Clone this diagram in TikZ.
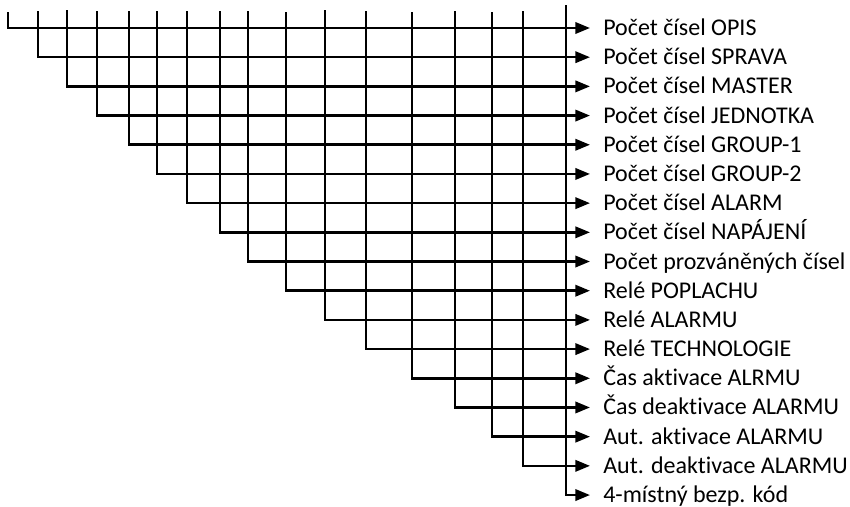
\documentclass[tikz,border=0pt]{standalone}
\usepackage{fontspec}
\setmainfont{Carlito}[Ligatures=NoCommon]
\usetikzlibrary{arrows.meta}
\begin{document}
\begin{tikzpicture}[x=0.75pt,y=-0.75pt,
    wire/.style={line width=1.9pt,line join=miter,-{Triangle[length=11pt,width=8.5pt]}},
    lab/.style={anchor=base west,inner sep=0pt,font=\fontsize{18}{21}\selectfont}]
\useasboundingbox (0,0) rectangle (850,507);
\foreach \i/\x/\t/\lab in {1/8/12/{Počet čísel OPIS},2/38/11/{Počet čísel SPRAVA},
    3/67/10/{Počet čísel MASTER},4/97/11/{Počet čísel JEDNOTKA},
    5/129/11/{Počet čísel GROUP-1},6/157/11/{Počet čísel GROUP-2},
    7/187/11/{Počet čísel ALARM},8/220/11/{Počet čísel NAPÁJENÍ},
    9/248/11/{Počet prozváněných čísel},10/286/12/{Relé POPLACHU},
    11/325/10/{Relé ALARMU},12/366/11/{Relé TECHNOLOGIE},
    13/412/12/{Čas aktivace ALRMU},14/455/11/{Čas deaktivace ALARMU},
    15/492/12/{Aut. aktivace ALARMU},16/523/11/{Aut. deaktivace ALARMU},
    17/566/5/{4-místný bezp. kód}}{
    \pgfmathsetmacro\y{28+29.19*(\i-1)}
    \coordinate (t\i) at (\x,\t);
    \coordinate (e\i) at (590,\y);
    \node[lab] (l\i) at (603,\y+7.5) {\lab};
    \draw[wire] (t\i) |- (e\i);
}
\end{tikzpicture}
\end{document}
